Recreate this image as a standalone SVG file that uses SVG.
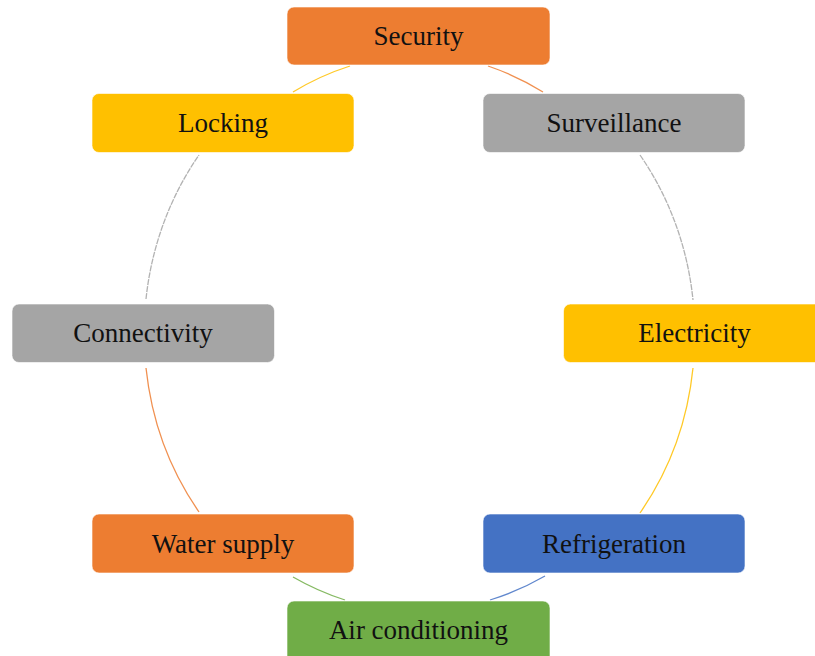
<svg xmlns="http://www.w3.org/2000/svg" width="815" height="656" viewBox="0 0 815 656">
<style>
.box{stroke:#ffffff;stroke-width:1;stroke-opacity:0.6}
.lbl{font-family:"Liberation Serif","Times New Roman",serif;font-size:27px;fill:#111;text-anchor:middle}
.c{fill:none;stroke-width:1.3;stroke-opacity:0.85}
</style>
<rect width="815" height="656" fill="#ffffff"/>
<g id="connectors">
<path class="c" stroke="#ED7D31" d="M488 66 A276 297 0 0 1 543 92"/>
<path class="c" stroke="#A5A5A5" stroke-dasharray="6 1" d="M640 155 A276 297 0 0 1 693 300"/>
<path class="c" stroke="#FFC000" d="M693 368 A276 297 0 0 1 640 513"/>
<path class="c" stroke="#4472C4" d="M545 576 A276 297 0 0 1 490 600"/>
<path class="c" stroke="#70AD47" d="M345 600 A276 297 0 0 1 293 577"/>
<path class="c" stroke="#ED7D31" d="M199 512 A276 297 0 0 1 146 368"/>
<path class="c" stroke="#A5A5A5" stroke-dasharray="6 1" d="M146 299 A276 297 0 0 1 199 155"/>
<path class="c" stroke="#FFC000" d="M293 92 A276 297 0 0 1 350 66"/>
</g>
<g id="security"><rect class="box" x="287" y="7" width="263" height="58" rx="7" fill="#ED7D31"/><text class="lbl" x="418.5" y="45">Security</text></g>
<g id="surveillance"><rect class="box" x="483" y="93.5" width="262" height="59" rx="7" fill="#A5A5A5"/><text class="lbl" x="614" y="132">Surveillance</text></g>
<g id="electricity"><rect class="box" x="563.5" y="304" width="262" height="58.5" rx="7" fill="#FFC000"/><text class="lbl" x="694.5" y="342">Electricity</text></g>
<g id="refrigeration"><rect class="box" x="483" y="514" width="262" height="59" rx="7" fill="#4472C4"/><text class="lbl" x="614" y="553">Refrigeration</text></g>
<g id="air-conditioning"><rect class="box" x="287" y="601" width="263" height="62" rx="7" fill="#70AD47"/><text class="lbl" x="418.5" y="639">Air conditioning</text></g>
<g id="water-supply"><rect class="box" x="92" y="514" width="262" height="59" rx="7" fill="#ED7D31"/><text class="lbl" x="223" y="553">Water supply</text></g>
<g id="connectivity"><rect class="box" x="12" y="304" width="262.5" height="58.5" rx="7" fill="#A5A5A5"/><text class="lbl" x="143" y="342">Connectivity</text></g>
<g id="locking"><rect class="box" x="92" y="93.5" width="262" height="59" rx="7" fill="#FFC000"/><text class="lbl" x="223" y="132">Locking</text></g>
</svg>
